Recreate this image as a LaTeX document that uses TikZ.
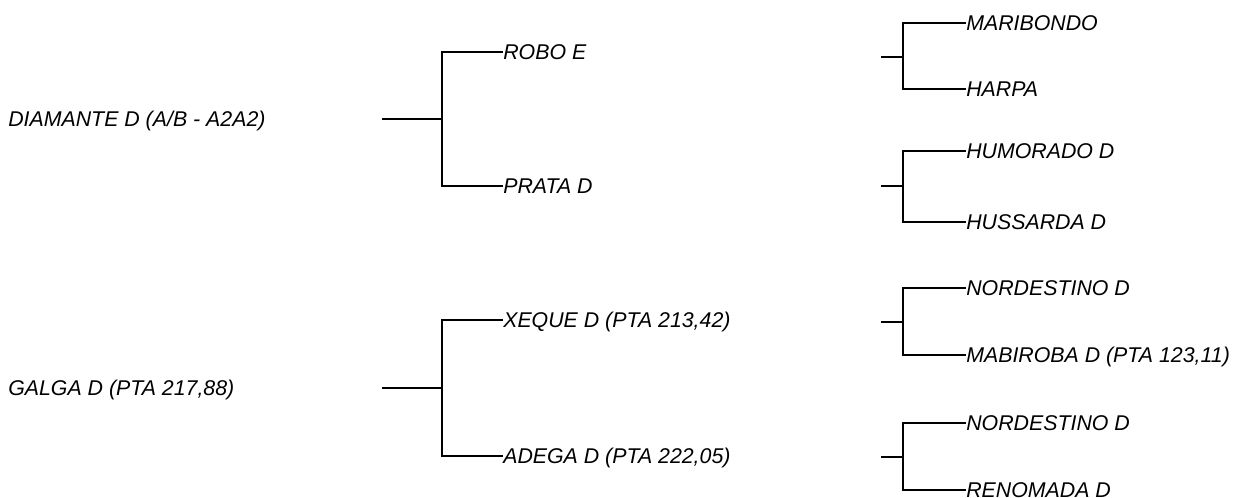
\documentclass[tikz,border=0pt]{standalone}
\usepackage{fontspec}
\setmainfont{Liberation Sans}
\usetikzlibrary{positioning}
\tikzstyle{animal} = [anchor=west, inner sep=0pt, text height=11.5pt, text depth=0pt, font=\fontsize{16}{19}\selectfont\itshape]
\tikzstyle{bracket} = [line width=2pt]
\begin{document}
\begin{tikzpicture}[x=0.75pt, y=-0.75pt]
    \useasboundingbox (0,0) rectangle (1237,498);
    % generation 1
    \node (diamante) [animal] at (8,119) {DIAMANTE D (A/B - A2A2)};
    \node (galga) [animal] at (8,388) {GALGA D (PTA 217,88)};
    % generation 2
    \node (robo) [animal] at (503,52) {ROBO E};
    \node (prata) [animal] at (503,186) {PRATA D};
    \node (xeque) [animal] at (503,320) {XEQUE D (PTA 213,42)};
    \node (adega) [animal] at (503,456) {ADEGA D (PTA 222,05)};
    % generation 3
    \node (maribondo) [animal] at (966,23) {MARIBONDO};
    \node (harpa) [animal] at (966,89) {HARPA};
    \node (humorado) [animal] at (966,151) {HUMORADO D};
    \node (hussarda) [animal] at (966,222) {HUSSARDA D};
    \node (nordestinoa) [animal] at (966,288) {NORDESTINO D};
    \node (mabiroba) [animal] at (966,355) {MABIROBA D (PTA 123,11)};
    \node (nordestinob) [animal] at (966,423) {NORDESTINO D};
    \node (renomada) [animal] at (966,490) {RENOMADA D};

    \coordinate (sdiamante) at (382,119);
    \coordinate (sgalga) at (382,388);
    \coordinate (srobo) at (881,57);
    \coordinate (sprata) at (881,186);
    \coordinate (sxeque) at (881,322);
    \coordinate (sadega) at (881,457);

    \draw [bracket] (sdiamante) -- ++(60,0);
    \draw [bracket] (robo.west) -- ++(-61,0) |- (prata.west);
    \draw [bracket] (sgalga) -- ++(60,0);
    \draw [bracket] (xeque.west) -- ++(-61,0) |- (adega.west);

    \draw [bracket] (srobo) -- ++(22,0);
    \draw [bracket] (maribondo.west) -- ++(-63,0) |- (harpa.west);
    \draw [bracket] (sprata) -- ++(22,0);
    \draw [bracket] (humorado.west) -- ++(-63,0) |- (hussarda.west);
    \draw [bracket] (sxeque) -- ++(22,0);
    \draw [bracket] (nordestinoa.west) -- ++(-63,0) |- (mabiroba.west);
    \draw [bracket] (sadega) -- ++(22,0);
    \draw [bracket] (nordestinob.west) -- ++(-63,0) |- (renomada.west);
\end{tikzpicture}
\end{document}
